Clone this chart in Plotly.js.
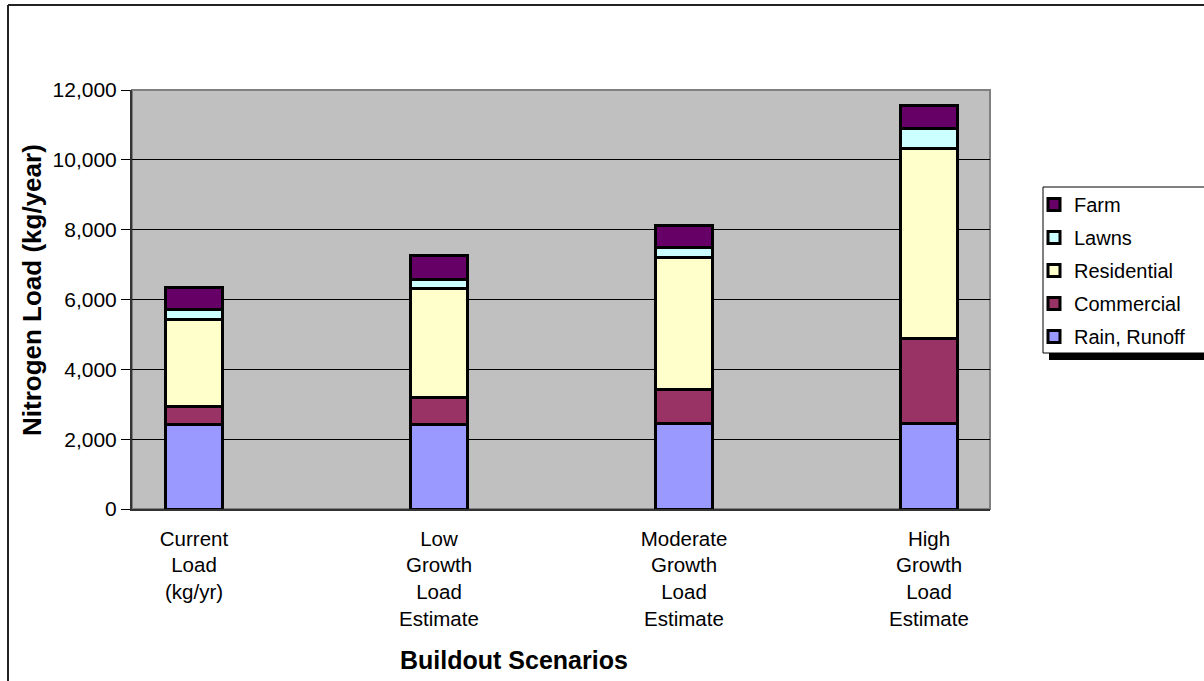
<!DOCTYPE html>
<html>
<head>
<meta charset="utf-8">
<script src="https://cdn.plot.ly/plotly-3.0.1.min.js"></script>
<style>
  html, body { margin: 0; padding: 0; background: #ffffff; }
  #chart { width: 1204px; height: 681px; }
</style>
</head>
<body>
<div id="chart"></div>
<script>
// ---- data ----
const scenarios = [0, 1, 2, 3];
const scenarioLabels = [
  "Current<br>Load<br>(kg/yr)",
  "Low<br>Growth<br>Load<br>Estimate",
  "Moderate<br>Growth<br>Load<br>Estimate",
  "High<br>Growth<br>Load<br>Estimate"
];
const rainRunoff  = [2430, 2430, 2450, 2450];
const commercial  = [520, 770, 960, 2440];
const residential = [2480, 3120, 3780, 5440];
const lawns       = [270, 260, 300, 580];
const farm        = [650, 670, 640, 650];

const seriesNames  = ["Rain, Runoff", "Commercial", "Residential", "Lawns", "Farm"];
const seriesValues = [rainRunoff, commercial, residential, lawns, farm];
const seriesColors = ["#9999FF", "#993366", "#FFFFCC", "#CCFFFF", "#660066"];

// ---- layout constants ----
const W = 1204, H = 681;
const L = 132, R = 990, T = 90, B = 509;
const px = v => (v - L) / (R - L);
const py = v => (B - v) / (B - T);

const traces = seriesNames.map((name, i) => ({
  type: "bar",
  name: name,
  x: scenarios,
  y: seriesValues[i],
  width: 0.229,
  legendgroup: "g" + i,
  legendrank: seriesNames.length - i,
  marker: { color: seriesColors[i], line: { color: "#000000", width: 3 } },
  hoverinfo: "skip"
}));

const font = "Arial, 'Liberation Sans', sans-serif";

const layout = {
  width: W, height: H,
  margin: { l: L, r: W - R, t: T, b: H - B, pad: 0 },
  paper_bgcolor: "#ffffff",
  plot_bgcolor: "#C0C0C0",
  barmode: "stack",
  showlegend: true,
  font: { family: font, color: "#000000", size: 20 },
  legend: {
    x: px(1034), y: py(185), xanchor: "left", yanchor: "top",
    bgcolor: "rgba(0,0,0,0)", borderwidth: 0,
    traceorder: "grouped", tracegroupgap: 4,
    font: { family: font, size: 20, color: "#000000" }
  },
  xaxis: {
    type: "linear",
    range: [-0.253, 3.249],
    tickvals: scenarios,
    ticktext: scenarioLabels,
    ticks: "", showgrid: false, zeroline: false,
    showline: true, linecolor: "#333333", linewidth: 2,
    tickfont: { family: font, size: 20.5 },
    ticklabelstandoff: 10,
    fixedrange: true
  },
  yaxis: {
    range: [0, 12000],
    dtick: 2000,
    tickformat: ",d",
    ticks: "outside", ticklen: 9, tickcolor: "#000000", tickwidth: 1,
    showgrid: true, gridcolor: "#000000", gridwidth: 1,
    zeroline: false,
    showline: true, linecolor: "#333333", linewidth: 2,
    tickfont: { family: font, size: 21 },
    fixedrange: true
  },
  annotations: [
    { text: "<b>Buildout Scenarios</b>", xref: "paper", yref: "paper",
      x: px(514), y: py(660), xanchor: "center", yanchor: "middle",
      showarrow: false, font: { family: font, size: 25, color: "#000000" } },
    { text: "<b>Nitrogen Load (kg/year)</b>", xref: "paper", yref: "paper",
      x: px(32), y: py(290), xanchor: "center", yanchor: "middle", textangle: -90,
      showarrow: false, font: { family: font, size: 26, color: "#000000" } }
  ],
  shapes: [
    // plot area border (gray)
    { type: "rect", xref: "paper", yref: "paper", x0: 0, x1: 1, y0: 0, y1: 1,
      line: { color: "#808080", width: 2 }, layer: "below" },
    // legend shadow
    { type: "rect", xref: "paper", yref: "paper",
      x0: px(1049), x1: px(1260), y0: py(360), y1: py(347),
      fillcolor: "#000000", line: { width: 0 }, layer: "below" },
    // legend box
    { type: "rect", xref: "paper", yref: "paper",
      x0: px(1043), x1: px(1240), y0: py(353), y1: py(187),
      fillcolor: "#ffffff", line: { color: "#000000", width: 1 }, layer: "below" },
    // outer chart border (left & top visible)
    { type: "line", xref: "paper", yref: "paper",
      x0: px(8), x1: px(8), y0: py(700), y1: py(5),
      line: { color: "#222222", width: 2 } },
    { type: "line", xref: "paper", yref: "paper",
      x0: px(8), x1: px(1260), y0: py(5), y1: py(5),
      line: { color: "#222222", width: 2 } }
  ]
};

Plotly.newPlot("chart", traces, layout, { displayModeBar: false, staticPlot: true });
</script>
</body>
</html>
